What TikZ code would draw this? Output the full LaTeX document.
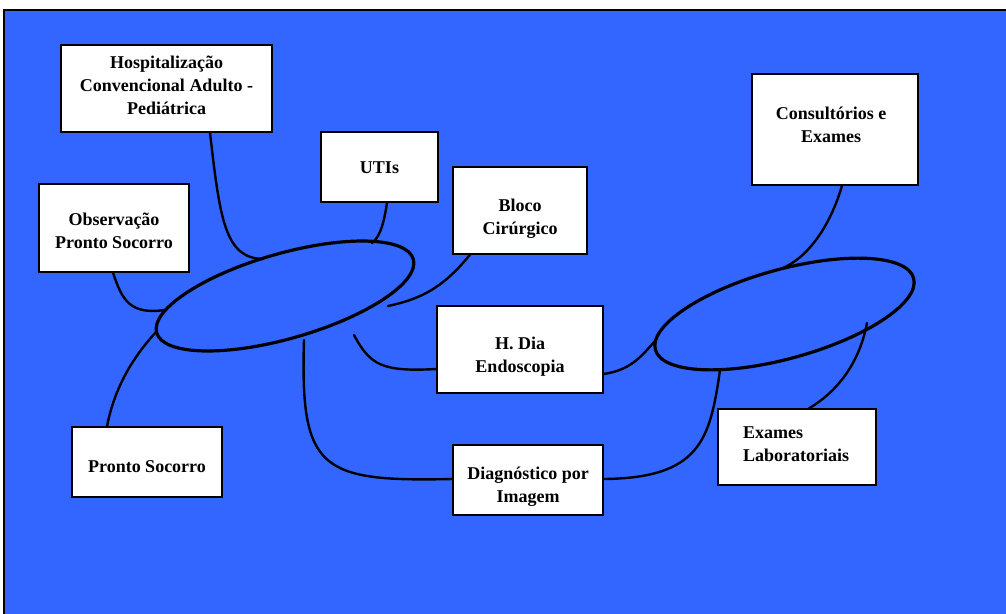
\documentclass[tikz,border=0pt]{standalone}
\usepackage{fontspec}
\setmainfont{Liberation Serif}
\usetikzlibrary{shapes.geometric}
\definecolor{bgblue}{RGB}{51,102,255}
\tikzset{
  box/.style={draw=black, fill=white, line width=1.3pt, inner sep=0pt},
  txt/.style={inner sep=0pt, align=center, font=\bfseries\fontsize{18}{23}\selectfont},
  hub/.style={ellipse, draw=black, line width=3.2pt, inner sep=0pt},
  link/.style={draw=black, line width=2.4pt, line cap=round}
}
\begin{document}
\begin{tikzpicture}[x=1pt,y=-1pt]
\useasboundingbox (0,0) rectangle (1006,613);
\fill[white] (0,0) rectangle (1006,613);
\draw[fill=bgblue, line width=2.5pt] (4,10) rectangle (1015,625);

% hubs
\node[hub, minimum width=267pt, minimum height=85pt, rotate=16] (hubL) at (285,296) {};
\node[hub, minimum width=268pt, minimum height=89pt, rotate=15.5] (hubR) at (784.5,314) {};

% boxes
\node[box, minimum width=211pt, minimum height=87pt] (hosp) at (166.5,88.5) {};
\node[box, minimum width=150pt, minimum height=88pt] (obs) at (114,228) {};
\node[box, minimum width=117pt, minimum height=70pt] (utis) at (379.5,167) {};
\node[box, minimum width=134pt, minimum height=87pt] (bloco) at (520,210.5) {};
\node[box, minimum width=166pt, minimum height=87pt] (hdia) at (520,349.5) {};
\node[box, minimum width=166pt, minimum height=111pt] (consult) at (835,129.5) {};
\node[box, minimum width=158pt, minimum height=76pt] (lab) at (797,447) {};
\node[box, minimum width=150pt, minimum height=70pt] (ps) at (147,462) {};
\node[box, minimum width=150pt, minimum height=70pt] (diag) at (528,480) {};

% texts
\node[txt] (hosp-t) at (166.5,85.5) {Hospitalização\\Convencional Adulto -\\Pediátrica};
\node[txt] (obs-t) at (114,231) {Observação\\Pronto Socorro};
\node[txt] (utis-t) at (379.5,168) {UTIs};
\node[txt] (bloco-t) at (520,218.5) {Bloco\\Cirúrgico};
\node[txt] (hdia-t) at (520,356.5) {H. Dia\\Endoscopia};
\node[txt] (consult-t) at (831,124.5) {Consultórios e\\Exames};
\node[txt, align=left] (lab-t) at (796,444) {Exames\\Laboratoriais};
\node[txt] (ps-t) at (147,467) {Pronto Socorro};
\node[txt] (diag-t) at (528,487) {Diagnóstico por\\Imagem};

% connector ends on hubs
\coordinate (e1a) at (263,259);
\coordinate (e1b) at (372,243);
\coordinate (e1c) at (388,306);
\coordinate (e1d) at (354,335);
\coordinate (e1e) at (304,340);
\coordinate (e1f) at (165,310);
\coordinate (e1g) at (156,332);
\coordinate (e2a) at (655,341);
\coordinate (e2b) at (720,370);
\coordinate (e2c) at (783,268);
\coordinate (e2d) at (867,323);

% connectors
\draw[link] ([xshift=43.5pt]hosp.south) .. controls (220,220) and (225,258) .. (e1a);
\draw[link] ([xshift=7.5pt]utis.south) .. controls (383,230) and (378,238) .. (e1b);
\draw[link] ([xshift=-50pt]bloco.south) .. controls (440,292) and (415,300) .. (e1c);
\draw[link] (e1d) .. controls (370,365) and (382,372) .. ([yshift=-19.5pt]hdia.west);
\draw[link] (e1e) .. controls (300,470) and (320,482) .. ([yshift=1pt]diag.west);
\draw[link] ([xshift=-1pt]obs.south) .. controls (122,300) and (130,315) .. (e1f);
\draw[link] ([xshift=-40pt]ps.north) .. controls (115,385) and (135,355) .. (e1g);
\draw[link] ([yshift=-24.5pt]hdia.east) .. controls (630,370) and (640,358) .. (e2a);
\draw[link] (e2b) .. controls (710,440) and (700,478) .. ([yshift=1pt]diag.east);
\draw[link] ([xshift=7pt]consult.south) .. controls (832,220) and (812,255) .. (e2c);
\draw[link] ([xshift=12pt]lab.north) .. controls (840,390) and (860,360) .. (e2d);
\end{tikzpicture}
\end{document}
